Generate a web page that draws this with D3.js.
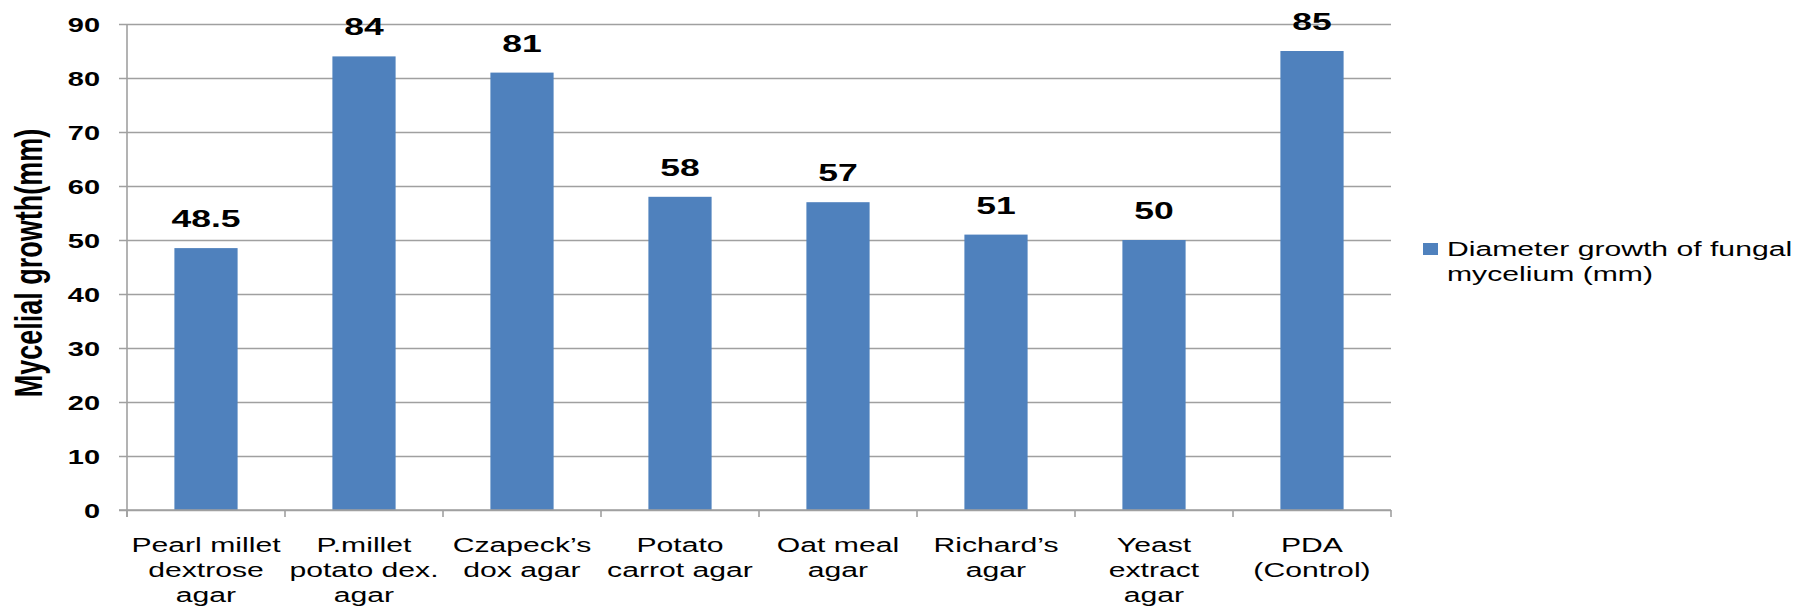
<!DOCTYPE html>
<html>
<head>
<meta charset="utf-8">
<script src="https://d3js.org/d3.v7.min.js"></script>
<style>
  html, body { margin: 0; padding: 0; background: #fff; }
  svg { display: block; }
  text { font-family: "Liberation Sans", Arial, sans-serif; fill: #000; }
</style>
</head>
<body>
<svg id="chart"></svg>
<script>
// Mycelial growth of the fungus on different culture media
const categories = [
  ["Pearl millet", "dextrose", "agar"],
  ["P.millet", "potato dex.", "agar"],
  ["Czapeck\u2019s", "dox agar"],
  ["Potato", "carrot agar"],
  ["Oat meal", "agar"],
  ["Richard\u2019s", "agar"],
  ["Yeast", "extract", "agar"],
  ["PDA", "(Control)"]
];
const values = [48.5, 84, 81, 58, 57, 51, 50, 85];
const valueLabels = ["48.5", "84", "81", "58", "57", "51", "50", "85"];
const yTicks = [0, 10, 20, 30, 40, 50, 60, 70, 80, 90];
const seriesName = ["Diameter growth of fungal", "mycelium (mm)"];
const yTitle = "Mycelial growth(mm)";

// The drawing uses a horizontally widened coordinate space (wide glyphs)
const SX = 1.45;
const W = 1810, H = 612;
const LW = W / SX;

const svg = d3.select("#chart")
  .attr("width", W).attr("height", H)
  .attr("viewBox", `0 0 ${LW} ${H}`)
  .attr("preserveAspectRatio", "none");

const plot = { left: 127 / SX, right: 1391 / SX, top: 24, bottom: 510 };
const tickLen = 8 / SX;
const gridColor = "#a0a0a0";
const barColor = "#4f81bd";

const x = d3.scaleBand()
  .domain(d3.range(categories.length))
  .range([plot.left, plot.right])
  .paddingInner(0.6).paddingOuter(0.3);

const y = d3.scaleLinear().domain([0, 90]).range([plot.bottom, plot.top]);

// Horizontal gridlines with short ticks left of the axis
const yAxis = d3.axisLeft(y)
  .tickValues(yTicks)
  .tickSize(-(plot.right - plot.left) - tickLen)
  .tickSizeOuter(0)
  .tickPadding(0)
  .tickFormat(d3.format("d"));

const gy = svg.append("g")
  .attr("transform", `translate(${plot.left - tickLen},0)`)
  .call(yAxis);
gy.select(".domain").remove();
gy.selectAll(".tick line")
  .attr("stroke", gridColor)
  .attr("stroke-width", 1.6);
gy.selectAll(".tick text")
  .attr("x", 100 / SX - (plot.left - tickLen))
  .attr("dy", "0.36em")
  .attr("text-anchor", "end")
  .style("font-size", "20px")
  .style("font-weight", "bold");

// Vertical axis line
svg.append("line")
  .attr("x1", plot.left).attr("x2", plot.left)
  .attr("y1", plot.top).attr("y2", plot.bottom + 7)
  .attr("stroke", gridColor).attr("stroke-width", 1.1);

// Category boundary ticks along the bottom
const step = x.step();
const boundaries = d3.range(categories.length + 1).map(i => plot.left + i * step);
svg.append("g").selectAll("line").data(boundaries).join("line")
  .attr("x1", d => d).attr("x2", d => d)
  .attr("y1", plot.bottom).attr("y2", plot.bottom + 7)
  .attr("stroke", gridColor).attr("stroke-width", 1.1);

// Bars
svg.append("g").selectAll("rect").data(values).join("rect")
  .attr("x", (d, i) => x(i))
  .attr("width", x.bandwidth())
  .attr("y", d => y(d))
  .attr("height", d => y(0) - y(d))
  .attr("fill", barColor);

// Baseline (redrawn over bars)
svg.append("line")
  .attr("x1", plot.left - tickLen).attr("x2", plot.right)
  .attr("y1", plot.bottom).attr("y2", plot.bottom)
  .attr("stroke", gridColor).attr("stroke-width", 1.6);

// Value labels above bars
svg.append("g").selectAll("text").data(values).join("text")
  .attr("x", (d, i) => x(i) + x.bandwidth() / 2)
  .attr("y", d => y(d) - 21)
  .attr("text-anchor", "middle")
  .style("font-size", "24.5px")
  .style("font-weight", "bold")
  .text((d, i) => valueLabels[i]);

// Category labels (multi-line)
const cat = svg.append("g").selectAll("text").data(categories).join("text")
  .attr("text-anchor", "middle")
  .style("font-size", "20.8px");
cat.each(function(lines, i) {
  d3.select(this).selectAll("tspan").data(lines).join("tspan")
    .attr("x", x(i) + x.bandwidth() / 2)
    .attr("y", (l, j) => 552 + j * 25)
    .text(l => l);
});

// Y axis title
svg.append("text")
  .attr("transform", `translate(${42 / SX},263) rotate(-90)`)
  .attr("text-anchor", "middle")
  .style("font-size", "27px")
  .style("font-weight", "bold")
  .text(yTitle);

// Legend
const legend = svg.append("g");
legend.append("rect")
  .attr("x", 1423 / SX).attr("y", 243)
  .attr("width", 15 / SX).attr("height", 12)
  .attr("fill", barColor);
legend.append("text")
  .style("font-size", "20.8px")
  .selectAll("tspan").data(seriesName).join("tspan")
  .attr("x", 1447 / SX)
  .attr("y", (d, i) => 256 + i * 25.5)
  .text(d => d);
</script>
</body>
</html>
